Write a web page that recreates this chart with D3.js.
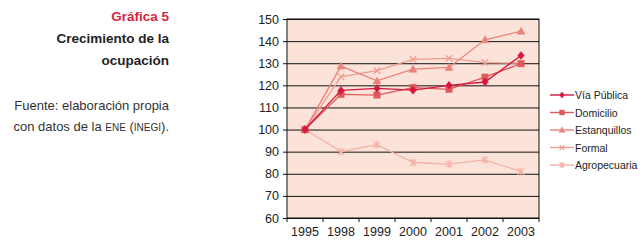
<!DOCTYPE html>
<html>
<head>
<meta charset="utf-8">
<script src="https://cdn.jsdelivr.net/npm/d3@7"></script>
<style>
    body { margin: 0; background: #fff; }
    text { font-family: "Liberation Sans", Arial, sans-serif; }
</style>
</head>
<body>
<div id="chart"></div>
<script>
// Graph dimension
const W = 643, H = 245
const plot = { left: 287, right: 539, top: 19, bottom: 218 }

const years = ["1995", "1998", "1999", "2000", "2001", "2002", "2003"]
const yTicks = [60, 70, 80, 90, 100, 110, 120, 130, 140, 150]

const seriesNames = ["Vía Pública", "Domicilio", "Estanquillos", "Formal", "Agropecuaria"]
const viaPublica = [100, 117.7, 118.6, 117.8, 120, 121.5, 133.5]
const domicilio = [100, 115.9, 115.6, 119, 118.2, 123.7, 129.8]
const estanquillos = [100, 128.7, 122, 127.3, 128.1, 140.6, 144.5]
const formal = [100, 123.8, 126.6, 131.7, 132.2, 130.3, 130]
const agropecuaria = [100, 90, 93.2, 85.1, 84.4, 86.3, 81]

const colors = ["#d5173d", "#e0585a", "#e8837a", "#ef9c90", "#f4b1a8"]
const symbols = ["diamond", "square", "triangle", "x", "asterisk"]

const allSeries = [viaPublica, domicilio, estanquillos, formal, agropecuaria]

const svg = d3.select("#chart").append("svg")
    .attr("width", W)
    .attr("height", H)

// left text block
const note = svg.append("g").attr("text-anchor", "end")
note.append("text").attr("x", 169).attr("y", 21)
    .style("font-size", "13.5px").style("font-weight", "bold").style("fill", "#d7263f")
    .text("Gráfica 5")
note.append("text").attr("x", 169).attr("y", 43)
    .style("font-size", "13.5px").style("font-weight", "bold").style("fill", "#222")
    .text("Crecimiento de la")
note.append("text").attr("x", 169).attr("y", 65)
    .style("font-size", "13.5px").style("font-weight", "bold").style("fill", "#222")
    .text("ocupación")
note.append("text").attr("x", 169).attr("y", 110)
    .style("font-size", "13px").style("fill", "#333")
    .text("Fuente: elaboración propia")
const src = note.append("text").attr("x", 169).attr("y", 131)
    .style("font-size", "13px").style("fill", "#333")
src.append("tspan").text("con datos de la ")
src.append("tspan").style("font-size", "10px").text("ENE")
src.append("tspan").text(" (")
src.append("tspan").style("font-size", "10px").text("INEGI")
src.append("tspan").text(").")

// scales
const x = d3.scaleBand()
    .domain(years)
    .range([plot.left, plot.right])

const y = d3.scaleLinear()
    .domain([60, 150])
    .range([plot.bottom, plot.top])

// plot background
svg.append("rect")
    .attr("x", plot.left).attr("y", plot.top)
    .attr("width", plot.right - plot.left)
    .attr("height", plot.bottom - plot.top)
    .style("fill", "#fbe3d9")

// gridlines (extend left as ticks)
svg.append("g")
    .attr("transform", `translate(${plot.left},0)`)
    .call(d3.axisLeft(y).tickValues(yTicks).tickSize(-(plot.right - plot.left)).tickSizeOuter(0).tickPadding(8))
    .call(g => g.select(".domain").remove())
    .call(g => g.selectAll(".tick line").attr("x1", -4).attr("stroke", "#111"))
    .call(g => g.selectAll(".tick text").style("font-size", "12.5px").style("fill", "#222")
        .style("font-family", "'Liberation Sans', Arial, sans-serif"))

// frame
svg.append("rect")
    .attr("x", plot.left).attr("y", plot.top)
    .attr("width", plot.right - plot.left)
    .attr("height", plot.bottom - plot.top)
    .style("fill", "none").style("stroke", "#111").style("stroke-width", 1)

// x axis
const xAxis = svg.append("g")
    .attr("transform", `translate(0,${plot.bottom})`)
xAxis.selectAll("line.tk")
    .data(years.concat([null]))
    .join("line")
    .attr("class", "tk")
    .attr("x1", (d, i) => i < years.length ? x(d) : plot.right)
    .attr("x2", (d, i) => i < years.length ? x(d) : plot.right)
    .attr("y1", 0).attr("y2", 4)
    .style("stroke", "#111")
xAxis.selectAll("text")
    .data(years)
    .join("text")
    .attr("x", d => x(d) + x.bandwidth() / 2)
    .attr("y", 18)
    .attr("text-anchor", "middle")
    .style("font-size", "12.5px").style("fill", "#222")
    .text(d => d)

// symbol path helper
function marker(type, s) {
    if (type === "diamond") return `M0,${-s}L${s * 0.8},0L0,${s}L${-s * 0.8},0Z`
    if (type === "square") return `M${-s * 0.8},${-s * 0.8}h${s * 1.6}v${s * 1.6}h${-s * 1.6}Z`
    if (type === "triangle") return `M0,${-s}L${s},${s * 0.75}L${-s},${s * 0.75}Z`
    if (type === "x") return `M${-s * 0.8},${-s * 0.8}L${s * 0.8},${s * 0.8}M${s * 0.8},${-s * 0.8}L${-s * 0.8},${s * 0.8}`
    return `M${-s * 0.8},${-s * 0.8}L${s * 0.8},${s * 0.8}M${s * 0.8},${-s * 0.8}L${-s * 0.8},${s * 0.8}M0,${-s}L0,${s}`
}
const filled = t => t === "diamond" || t === "square" || t === "triangle"

const line = d3.line()
    .x((d, i) => x(years[i]) + x.bandwidth() / 2)
    .y(d => y(d))

// draw series, lightest first so dark ones sit on top
for (let k = allSeries.length - 1; k >= 0; k--) {
    const vals = allSeries[k]
    const g = svg.append("g")
    g.append("path")
        .datum(vals)
        .attr("d", line)
        .style("fill", "none")
        .style("stroke", colors[k])
        .style("stroke-width", 1.3)
    g.selectAll("path.m")
        .data(vals)
        .join("path")
        .attr("class", "m")
        .attr("transform", (d, i) => `translate(${x(years[i]) + x.bandwidth() / 2},${y(d)})`)
        .attr("d", marker(symbols[k], 4))
        .style("fill", filled(symbols[k]) ? colors[k] : "none")
        .style("stroke", colors[k])
        .style("stroke-width", filled(symbols[k]) ? 0.5 : 1.3)
}

// legend
const legend = svg.append("g")
seriesNames.forEach(function (name, k) {
    const ly = 95 + k * 17.5
    legend.append("line")
        .attr("x1", 550).attr("x2", 574)
        .attr("y1", ly).attr("y2", ly)
        .style("stroke", colors[k]).style("stroke-width", 1.4)
    legend.append("path")
        .attr("transform", `translate(562,${ly})`)
        .attr("d", marker(symbols[k], 3))
        .style("fill", filled(symbols[k]) ? colors[k] : "none")
        .style("stroke", colors[k])
        .style("stroke-width", filled(symbols[k]) ? 0.5 : 1.2)
    legend.append("text")
        .attr("x", 575).attr("y", ly + 4)
        .style("font-size", "10.5px").style("fill", "#222")
        .text(name)
})
</script>
</body>
</html>
